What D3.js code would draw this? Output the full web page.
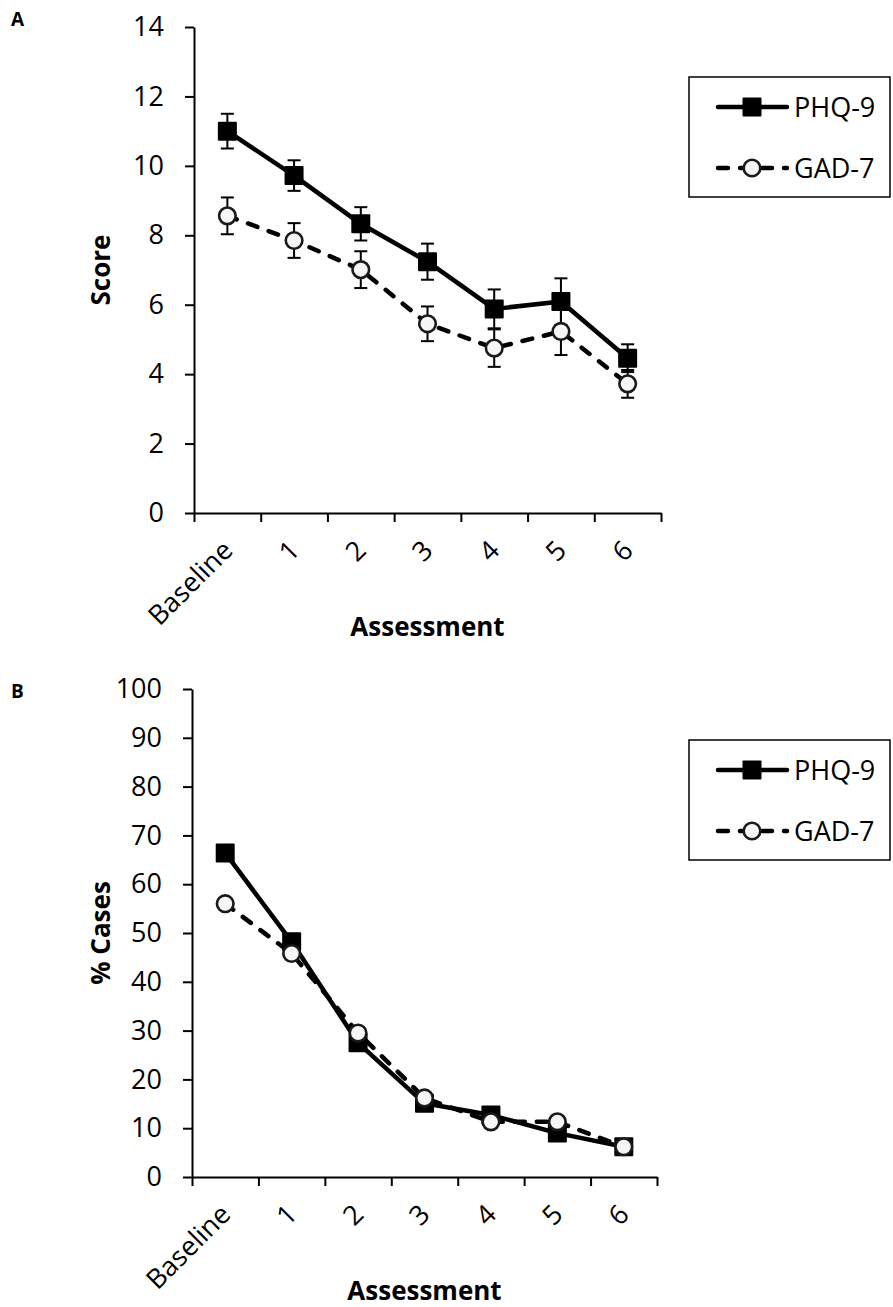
<!DOCTYPE html>
<html>
<head>
<meta charset="utf-8">
<script src="https://cdn.jsdelivr.net/npm/d3@7"></script>
<style>
  body { margin: 0; background: #fff; }
  text { font-family: 'Open Sans', sans-serif; fill: #000; }
</style>
</head>
<body>
<div id="chart"></div>
<script>
// data
const assessments = ['Baseline', '1', '2', '3', '4', '5', '6']

const phqScore = [11.0, 9.72, 8.33, 7.24, 5.88, 6.09, 4.46]
const phqScoreErr = [0.5, 0.44, 0.48, 0.52, 0.56, 0.67, 0.4]
const gadScore = [8.56, 7.85, 7.01, 5.45, 4.75, 5.23, 3.72]
const gadScoreErr = [0.53, 0.5, 0.53, 0.5, 0.54, 0.68, 0.4]

const phqCases = [66.4, 48.2, 27.5, 15.1, 12.7, 9.0, 6.2]
const gadCases = [56.0, 45.8, 29.5, 16.2, 11.3, 11.3, 6.2]

const scoreTicks = [0, 2, 4, 6, 8, 10, 12, 14]
const caseTicks = [0, 10, 20, 30, 40, 50, 60, 70, 80, 90, 100]

const seriesNames = ['PHQ-9', 'GAD-7']

const width = 893
const height = 1307

const svg = d3.select('#chart')
  .append('svg')
  .attr('width', width)
  .attr('height', height)

svg.append('rect')
  .attr('width', width)
  .attr('height', height)
  .attr('fill', 'white')

const panels = [
  {
    label: 'A', labelY: 26,
    x0: 194, x1: 661, yTop: 27, yBot: 513,
    domain: [0, 14], ticks: scoreTicks, title: 'Score',
    phq: phqScore, gad: gadScore, phqErr: phqScoreErr, gadErr: gadScoreErr,
    legendTop: 77
  },
  {
    label: 'B', labelY: 698,
    x0: 192, x1: 657, yTop: 689, yBot: 1177,
    domain: [0, 100], ticks: caseTicks, title: '% Cases',
    phq: phqCases, gad: gadCases, phqErr: null, gadErr: null,
    legendTop: 740
  }
]

const dash = '10,12'
const lineW = 4.5

function drawSquare (sel, cx, cy) {
  sel.append('rect')
    .attr('x', cx - 9.5)
    .attr('y', cy - 9.5)
    .attr('width', 19)
    .attr('height', 19)
    .attr('rx', 1)
    .attr('fill', '#000')
}

function drawCircle (sel, cx, cy) {
  sel.append('circle')
    .attr('cx', cx)
    .attr('cy', cy)
    .attr('r', 8.3)
    .attr('fill', '#f6f6f6')
    .attr('stroke', '#1a1a1a')
    .attr('stroke-width', 2.6)
}

function drawPanel (p) {
  const g = svg.append('g')

  const x = d3.scaleBand().domain(assessments).range([p.x0, p.x1])
  const xEdge = d3.scaleLinear().domain([0, assessments.length]).range([p.x0, p.x1])
  const y = d3.scaleLinear().domain(p.domain).range([p.yBot, p.yTop])
  const cx = d => x(d) + x.bandwidth() / 2

  // panel letter
  g.append('text')
    .attr('x', 11)
    .attr('y', p.labelY)
    .style('font-size', '19px')
    .style('font-weight', 700)
    .text(p.label)

  // y axis
  const yAxis = g.append('g')
    .attr('transform', `translate(${p.x0},0)`)
    .call(d3.axisLeft(y).tickValues(p.ticks).tickSize(9).tickPadding(21).tickSizeOuter(0))
  yAxis.select('.domain').attr('stroke', '#000').attr('stroke-width', 2)
  yAxis.selectAll('.tick line').attr('stroke', '#000').attr('stroke-width', 2)
  yAxis.selectAll('.tick text')
    .style('font-size', '27px')
    .attr('font-family', "'Open Sans', sans-serif")

  // x axis (ticks at category edges)
  const xAxis = g.append('g')
    .attr('transform', `translate(0,${p.yBot})`)
    .call(d3.axisBottom(xEdge).tickValues(d3.range(assessments.length + 1)).tickFormat('').tickSize(9).tickSizeOuter(0))
  xAxis.select('.domain').attr('stroke', '#000').attr('stroke-width', 2)
  xAxis.selectAll('.tick line').attr('stroke', '#000').attr('stroke-width', 2)

  g.selectAll('.xlabel')
    .data(assessments)
    .enter()
    .append('text')
    .attr('class', 'xlabel')
    .attr('text-anchor', 'end')
    .style('font-size', '27px')
    .attr('transform', d => `translate(${cx(d) + 7},${p.yBot + 39})rotate(-45)`)
    .text(d => d)

  // axis titles
  g.append('text')
    .attr('text-anchor', 'middle')
    .style('font-size', '26px')
    .style('font-weight', 700)
    .attr('x', (p.x0 + p.x1) / 2)
    .attr('y', p.yBot + 123)
    .text('Assessment')

  g.append('text')
    .attr('text-anchor', 'middle')
    .style('font-size', '26px')
    .style('font-weight', 700)
    .attr('transform', `translate(110,${(p.yTop + p.yBot) / 2})rotate(-90)`)
    .text(p.title)

  const line = d3.line()
    .x((d, i) => cx(assessments[i]))
    .y(d => y(d))

  const series = [
    { values: p.phq, err: p.phqErr, dashed: false },
    { values: p.gad, err: p.gadErr, dashed: true }
  ]

  series.forEach(s => {
    const sg = g.append('g')
    sg.append('path')
      .datum(s.values)
      .attr('d', line)
      .attr('fill', 'none')
      .attr('stroke', '#000')
      .attr('stroke-width', lineW)
      .attr('stroke-linejoin', 'round')
      .attr('stroke-linecap', s.dashed ? 'round' : 'butt')
      .attr('stroke-dasharray', s.dashed ? dash : null)

    if (s.err) {
      s.values.forEach((v, i) => {
        const px = cx(assessments[i])
        const top = y(v + s.err[i])
        const bot = y(v - s.err[i])
        sg.append('line')
          .attr('x1', px).attr('x2', px)
          .attr('y1', top).attr('y2', bot)
          .attr('stroke', '#000').attr('stroke-width', 2)
        ;[top, bot].forEach(yy => {
          sg.append('line')
            .attr('x1', px - 6.5).attr('x2', px + 6.5)
            .attr('y1', yy).attr('y2', yy)
            .attr('stroke', '#000').attr('stroke-width', 2)
        })
      })
    }

    s.values.forEach((v, i) => {
      if (s.dashed) {
        drawCircle(sg, cx(assessments[i]), y(v))
      } else {
        drawSquare(sg, cx(assessments[i]), y(v))
      }
    })
  })

  // legend
  const lg = g.append('g').attr('transform', `translate(689,${p.legendTop})`)
  lg.append('rect')
    .attr('width', 201)
    .attr('height', 120)
    .attr('fill', 'white')
    .attr('stroke', '#000')
    .attr('stroke-width', 1.5)

  seriesNames.forEach((name, i) => {
    const ly = 30 + i * 61
    const dashed = i === 1
    lg.append('line')
      .attr('x1', 29).attr('x2', 98)
      .attr('y1', ly).attr('y2', ly)
      .attr('stroke', '#000')
      .attr('stroke-width', lineW)
      .attr('stroke-linecap', 'round')
      .attr('stroke-dasharray', dashed ? dash : null)
    if (dashed) {
      drawCircle(lg, 63, ly)
    } else {
      drawSquare(lg, 63, ly)
    }
    lg.append('text')
      .attr('x', 105)
      .attr('y', ly)
      .attr('dy', '0.36em')
      .style('font-size', '27px')
      .text(name)
  })
}

panels.forEach(drawPanel)
</script>
</body>
</html>
